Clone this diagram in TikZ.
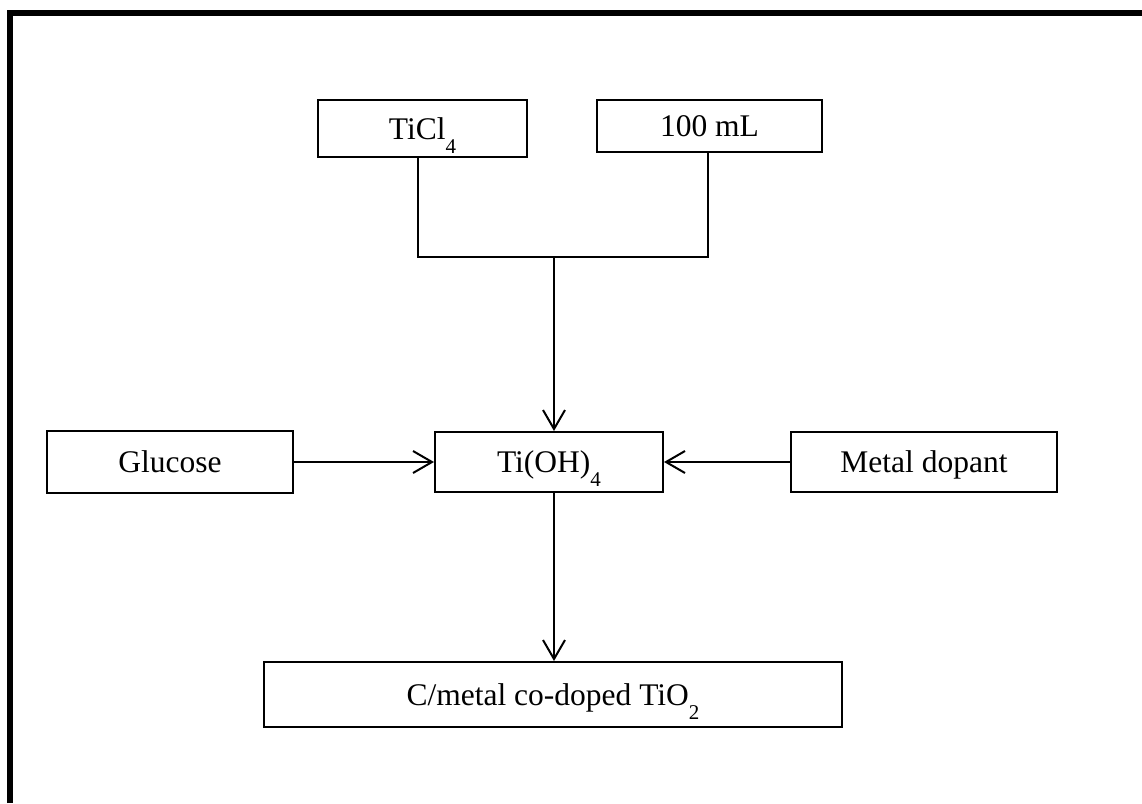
\documentclass[tikz,border=0pt]{standalone}
\usepackage{fontspec}
\setmainfont{Liberation Serif}
\usetikzlibrary{arrows.meta}
\newcommand{\mysub}[1]{\raisebox{-14pt}{\fontsize{21}{21}\selectfont #1}}
\begin{document}
\begin{tikzpicture}[x=1pt,y=-1pt,
  box/.style={draw,line width=2pt,inner sep=0pt,anchor=center,
    text height=21pt,text depth=0pt,
    font=\fontsize{31.5}{36}\selectfont},
  conn/.style={line width=2pt},
  arr/.style={line width=2pt,-{Straight Barb[length=19pt,width=22pt,line width=2pt]}}]
\useasboundingbox (0,0) rectangle (1142,803);
% frame
\draw[line width=6pt] (10,803) -- (10,13) -- (1142,13);
% nodes
\node[box,minimum width=209pt,minimum height=57pt] (ticl) at (422.5,128.5) {TiCl\mysub{4}};
\node[box,minimum width=225pt,minimum height=52pt] (ml) at (709.5,126) {100 mL};
\node[box,minimum width=228pt,minimum height=60pt] (tioh) at (549,462) {Ti(OH)\mysub{4}};
\node[box,minimum width=246pt,minimum height=62pt] (glu) at (170,462) {Glucose};
\node[box,minimum width=266pt,minimum height=60pt] (met) at (924,462) {Metal dopant};
\node[box,minimum width=578pt,minimum height=65pt] (tio2) at (553,694.5) {C/metal co-doped TiO\mysub{2}};
\coordinate (junc) at (554,257);
% connectors
\draw[conn] ([xshift=-4.5pt]ticl.south) |- (junc) -| ([xshift=-1.5pt]ml.south);
\draw[arr] (junc) -- ([xshift=5pt]tioh.north);
\draw[arr] (glu.east) -- (tioh.west);
\draw[arr] (met.west) -- (tioh.east);
\draw[arr] ([xshift=5pt]tioh.south) -- ([xshift=1pt]tio2.north);
\end{tikzpicture}
\end{document}
